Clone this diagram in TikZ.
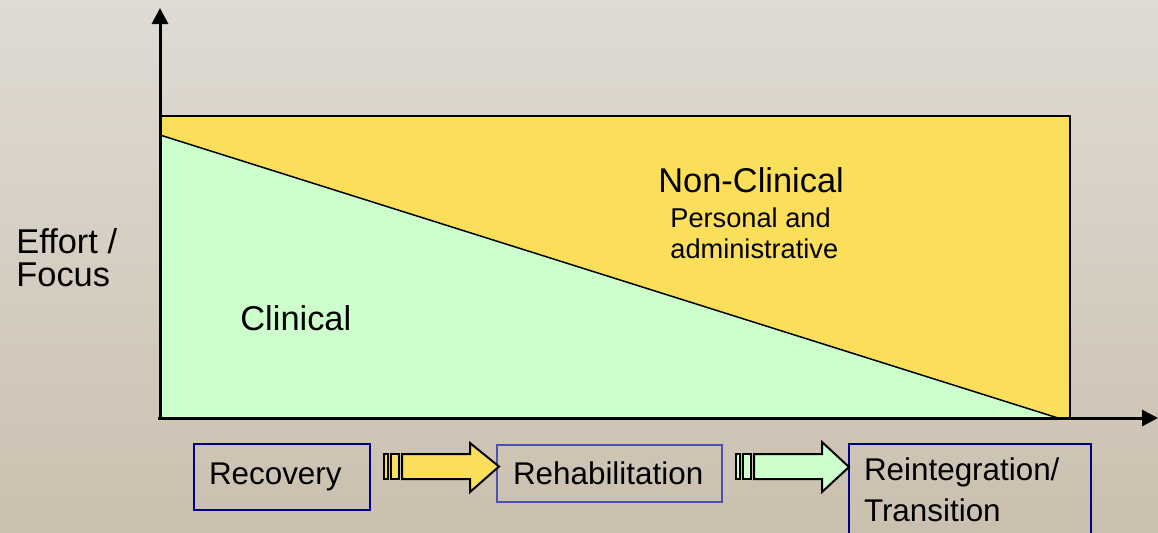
\documentclass[tikz,border=0pt]{standalone}
\usepackage{fontspec}
\setmainfont{Liberation Sans}
\usetikzlibrary{arrows.meta}

\begin{document}
\begin{tikzpicture}[x=0.5pt,y=-0.5pt,
	axis/.style={line width=1.5pt,-{Triangle[length=8pt,width=8pt]}},
	stagebox/.style={draw,line width=1pt,anchor=north west,align=left,font=\fontsize{15.7}{20.5}\selectfont},
	bigtext/.style={anchor=west,inner sep=0pt,align=left,font=\fontsize{17.2}{16.5}\selectfont},
	smalltext/.style={anchor=west,inner sep=0pt,align=left,font=\fontsize{13.6}{15.5}\selectfont},
	blockarrow/.style={draw,line width=1pt,line join=miter}]
			\definecolor{bgtop}{RGB}{223,219,211}
			\definecolor{bgbottom}{RGB}{203,192,175}
			\definecolor{nonclin}{RGB}{251,223,90}
			\definecolor{clin}{RGB}{204,255,204}
			\definecolor{darkblue}{RGB}{0,0,128}
			\definecolor{midblue}{RGB}{80,80,176}
			% background
			\useasboundingbox (0,0) rectangle (1158,532);
			\clip (0,0) rectangle (1158,532);
			\shade[top color=bgtop,bottom color=bgbottom] (0,0) rectangle (1158,532);
			% Non-Clinical
			\draw[fill=nonclin,line width=0.75pt] (160,116) rectangle (1070,418);
			% Clinical
			\fill[clin] (160,135) -- (1058,418) -- (160,418) -- cycle;
			\draw[line width=0.75pt] (160,135) -- (1058,418);
			% axes
			\draw[axis] (160,418) -- (160,8);
			\draw[axis] (158,418) -- (1158,418);

			% labels
			\node[bigtext] (effort) at (16,257.5) {Effort /\\Focus};
			\node[bigtext] (nonclinical) at (658,180) {Non-Clinical};
			\node[smalltext] (personal) at (670,233.5) {Personal and\\administrative};
			\node[bigtext] (clinical) at (240,318) {Clinical};

			% stages
			\node[stagebox,draw=darkblue,inner xsep=7.5pt,text width=73pt,minimum height=33pt] (recovery) at (193,443) {Recovery};
			\node[stagebox,draw=midblue,inner xsep=8pt,text width=96.5pt,minimum height=28.5pt] (rehab) at (496,444) {Rehabilitation};
			\node[stagebox,draw=darkblue,inner xsep=7.5pt,inner ysep=7pt,text width=106pt] (reint) at (848,443) {Reintegration/\\Transition};

			% Pfeil 1
			\draw[blockarrow,fill=nonclin] (384,454) rectangle (388,479);
			\draw[blockarrow,fill=nonclin] (391,454) rectangle (399,479);
			\draw[blockarrow,fill=nonclin] (402,454) -- (470,454) -- (470,443) -- (499,466.5) -- (470,492) -- (470,479) -- (402,479) -- cycle;
			% Pfeil 2
			\draw[blockarrow,fill=clin] (736,454) rectangle (740,479);
			\draw[blockarrow,fill=clin] (743,454) rectangle (751,479);
			\draw[blockarrow,fill=clin] (754,454) -- (822,454) -- (822,442) -- (849,467) -- (822,492) -- (822,479) -- (754,479) -- cycle;
\end{tikzpicture}
\end{document}
